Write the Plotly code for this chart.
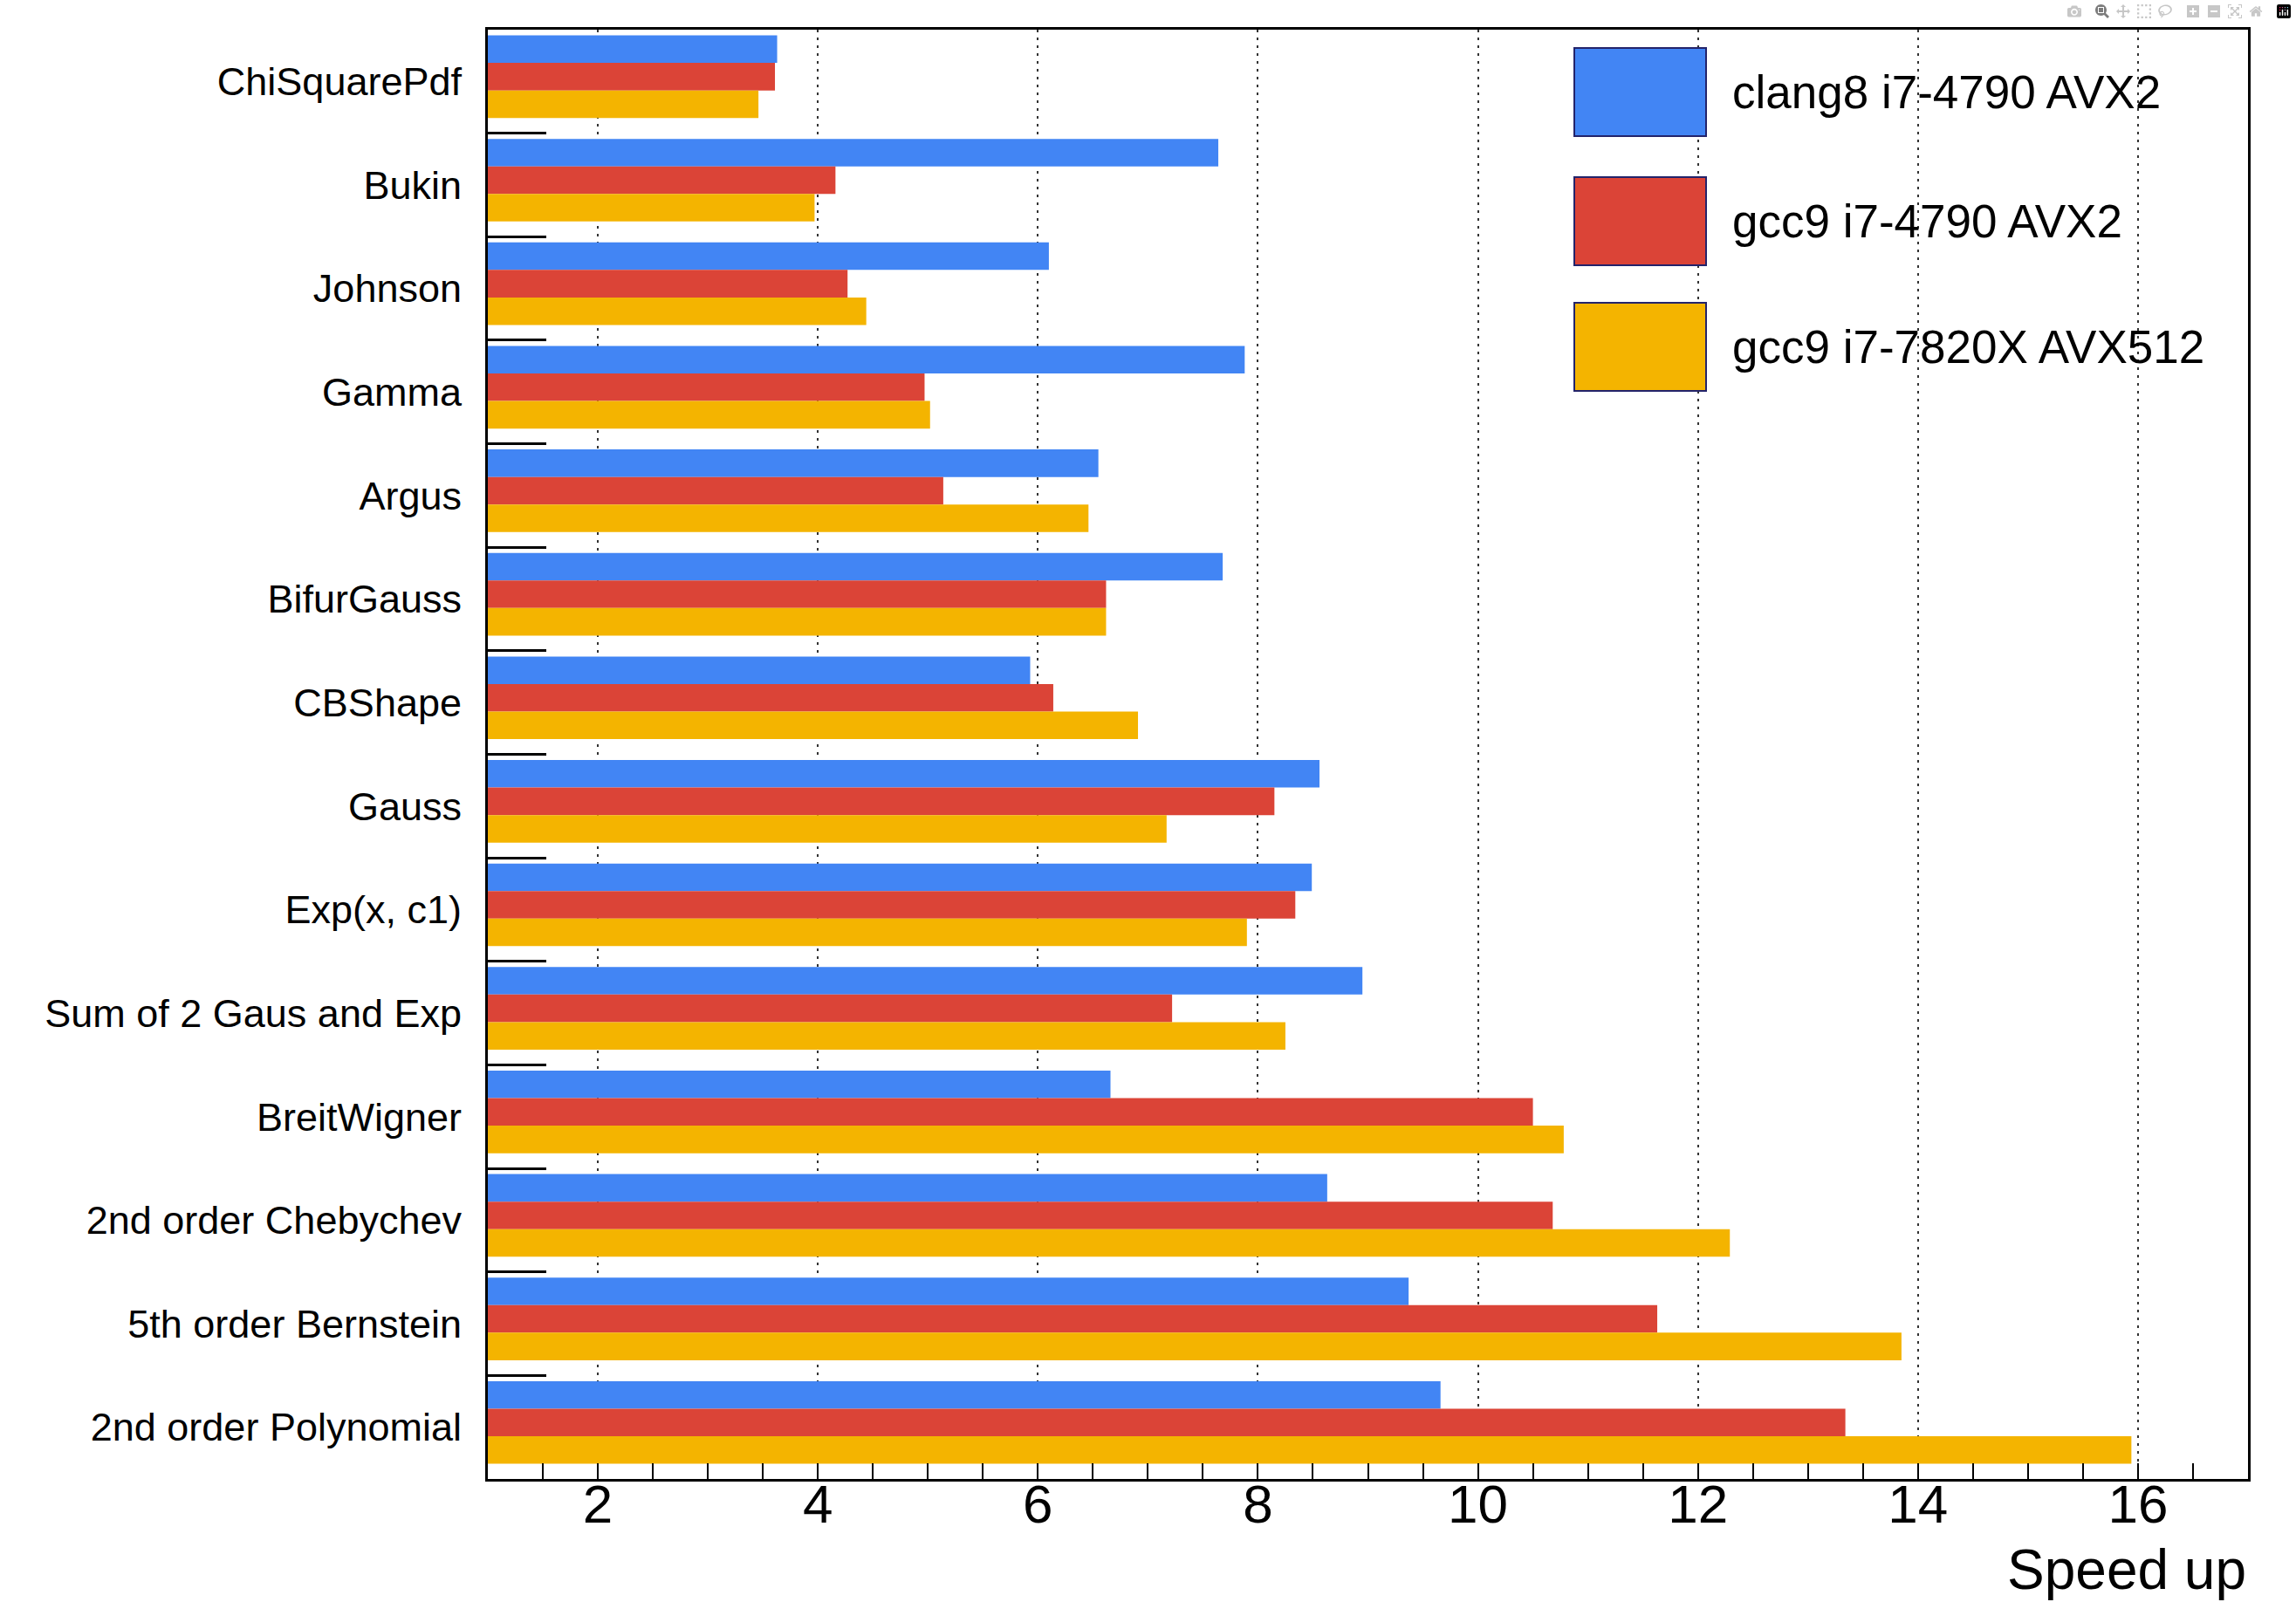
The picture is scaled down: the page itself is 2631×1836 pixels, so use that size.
import plotly.graph_objects as go

categories = ["ChiSquarePdf", "Bukin", "Johnson", "Gamma", "Argus", "BifurGauss",
              "CBShape", "Gauss", "Exp(x, c1)", "Sum of 2 Gaus and Exp", "BreitWigner",
              "2nd order Chebychev", "5th order Bernstein", "2nd order Polynomial"]

series_names = ["clang8 i7-4790 AVX2", "gcc9 i7-4790 AVX2", "gcc9 i7-7820X AVX512"]

clang8_avx2 = [3.63, 7.64, 6.10, 7.88, 6.55, 7.68, 5.93, 8.56, 8.49, 8.95, 6.66, 8.63, 9.37, 9.66]
gcc9_avx2 = [3.61, 4.16, 4.27, 4.97, 5.14, 6.62, 6.14, 8.15, 8.34, 7.22, 10.50, 10.68, 11.63, 13.34]
gcc9_avx512 = [3.46, 3.97, 4.44, 5.02, 6.46, 6.62, 6.91, 7.17, 7.90, 8.25, 10.78, 12.29, 13.85, 15.94]

x_tick_values = [2, 4, 6, 8, 10, 12, 14, 16]
x_axis_title = "Speed up"

colors = ["#4285F4", "#DB4437", "#F4B400"]
offsets = [-0.445, -0.179, 0.087]
bar_width = 0.266
FONT = "Liberation Sans, Arial, Helvetica, sans-serif"

W, H = 2631, 1836
ML, MR, MT, MB = 559, 55, 34, 141
PW, PH = W - ML - MR, H - MT - MB

fig = go.Figure()
for name, vals, col, off in zip(series_names, [clang8_avx2, gcc9_avx2, gcc9_avx512], colors, offsets):
    fig.add_trace(go.Bar(
        y=categories, x=vals, orientation="h", name=name,
        marker=dict(color=col, line=dict(width=0)),
        offset=off, width=bar_width, base=0, showlegend=False,
    ))

fig.update_layout(
    width=W, height=H,
    margin=dict(l=ML, r=MR, t=MT, b=MB, pad=0),
    paper_bgcolor="white", plot_bgcolor="white",
    barmode="overlay",
    font=dict(family=FONT, color="black"),
)

fig.update_xaxes(
    range=[1, 17], tickvals=x_tick_values, ticks="inside", ticklen=18, tickwidth=2,
    tickcolor="black",
    minor=dict(dtick=0.5, tick0=0, ticks="inside", ticklen=18, tickwidth=2,
               tickcolor="black", showgrid=False),
    showgrid=True, gridcolor="#333333", gridwidth=2, griddash="3px,6px",
    showline=True, linecolor="black", linewidth=3, mirror=True,
    tickfont=dict(size=62, family=FONT, color="black"),
    ticklabelstandoff=-27,
    zeroline=False,
)

fig.update_yaxes(
    type="category", autorange="reversed", tickson="boundaries",
    ticks="inside", ticklen=67, tickwidth=3, tickcolor="black",
    showgrid=False, showline=True, linecolor="black", linewidth=3, mirror=True,
    tickfont=dict(size=45, family=FONT, color="black"),
    ticklabelstandoff=18,
)

# axis title, right-aligned under the axis as in the original
fig.add_annotation(
    text=x_axis_title, xref="paper", yref="paper", x=1.0, y=-(1761 - (H - MB)) / PH,
    xanchor="right", yanchor="top", showarrow=False,
    font=dict(size=64, family=FONT, color="black"),
)

# legend with large boxes (as drawn in the original)
box_x0 = (1804 - ML) / PW
box_x1 = (1955 - ML) / PW
text_x = (1983 - ML) / PW
centers_px = [105.5, 253.5, 397.5]
half_h = 50.5 / PH
for name, col, cy in zip(series_names, colors, centers_px):
    yc = 1 - (cy - MT) / PH
    fig.add_shape(type="rect", xref="paper", yref="paper",
                  x0=box_x0, x1=box_x1, y0=yc - half_h, y1=yc + half_h,
                  fillcolor=col, line=dict(color="#23236b", width=2), layer="above")
    fig.add_annotation(text=name, xref="paper", yref="paper", x=text_x, y=yc,
                       xanchor="left", yanchor="middle", showarrow=False,
                       font=dict(size=53, family=FONT, color="black"))

fig.write_html("out.html", post_script="document.body.style.margin='0';")
